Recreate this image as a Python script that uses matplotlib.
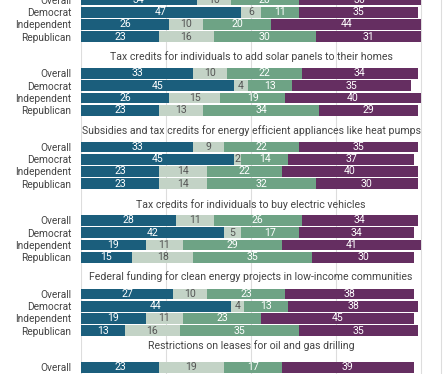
import matplotlib
matplotlib.use("Agg")
import matplotlib.pyplot as plt
import numpy as np

# survey panels (the first title is cut off in the reference)
POLICIES = [
    "",
    "Tax credits for individuals to add solar panels to their homes",
    "Subsidies and tax credits for energy efficient appliances like heat pumps",
    "Tax credits for individuals to buy electric vehicles",
    "Federal funding for clean energy projects in low-income communities",
    "Restrictions on leases for oil and gas drilling",
]
GROUPS = ["Overall", "Democrat", "Independent", "Republican"]

# one list per segment, one inner list per panel (Overall, Dem, Ind, Rep)
SEG_BLUE = [[34, 47, 26, 23], [33, 45, 26, 23], [33, 45, 23, 23],
            [28, 42, 19, 15], [27, 44, 19, 13], [23]]
SEG_LIGHT = [[10, 6, 10, 16], [10, 4, 15, 13], [9, 2, 14, 14],
             [11, 5, 11, 18], [10, 4, 11, 16], [19]]
SEG_GREEN = [[20, 11, 20, 30], [22, 13, 19, 34], [22, 14, 22, 32],
             [26, 17, 29, 35], [23, 13, 23, 35], [17]]
SEG_PURPLE = [[36, 35, 44, 31], [34, 35, 40, 29], [35, 37, 40, 30],
              [34, 34, 41, 30], [38, 38, 45, 35], [39]]

COLORS = ["#1b5e7c", "#c3d3c6", "#6ea385", "#652e61"]
TEXT_COLORS = ["white", "#555555", "white", "white"]
TITLE_GAP = [1.4, 1.4, 1.35, 1.28, 1.4, 1.75]

plt.rcParams["font.family"] = ["Roboto", "DejaVu Sans"]

fig = plt.figure(figsize=(4.47, 3.74), dpi=100)
ax = fig.add_axes([81 / 447, 0, 1 - 81 / 447, 1])
ax.set_xlim(0, (447 - 81) / 3.4)
ax.set_ylim(0.13 + 374 / 12.3, 0.13)

segments = [SEG_BLUE, SEG_LIGHT, SEG_GREEN, SEG_PURPLE]
yticks, ylabels = [], []
for p, title in enumerate(POLICIES):
    n = len(SEG_BLUE[p])
    ys = 6 * p + np.arange(n)
    left = np.zeros(n)
    for seg, col, tcol in zip(segments, COLORS, TEXT_COLORS):
        vals = np.array(seg[p], dtype=float)
        ax.barh(ys, vals, left=left, height=0.87, color=col, zorder=2)
        for y, l, v in zip(ys, left, vals):
            ax.text(l + v / 2, y, f"{int(v)}", ha="center", va="center",
                    fontsize=7.6, color=tcol, zorder=4)
        left += vals
    yticks.extend(ys)
    ylabels.extend(GROUPS[:n])
    if title:
        ax.text(50, 6 * p - TITLE_GAP[p], title, ha="center", va="center",
                fontsize=7.6, color="#444444")

ax.set_yticks(yticks)
ax.set_yticklabels(ylabels, fontsize=7.3, color="#444444")
ax.tick_params(axis="y", length=0, pad=7)
ax.set_xticks([])
for x in [0, 25, 50, 75, 100, 106]:
    ax.axvline(x, color="#dddddd", lw=0.8, zorder=1)
for s in ax.spines.values():
    s.set_visible(False)

fig.savefig("out.png", dpi=100)
plt.close(fig)
